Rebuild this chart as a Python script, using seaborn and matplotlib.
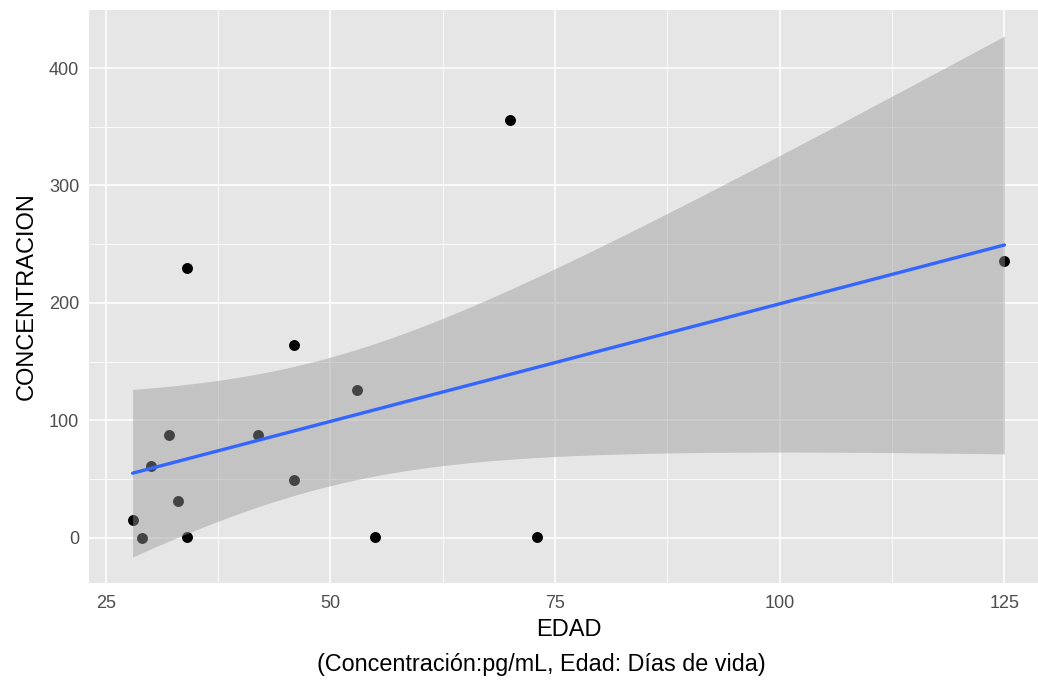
import numpy as np
import pandas as pd
import matplotlib
matplotlib.use("Agg")
import matplotlib.pyplot as plt
import seaborn as sns

# values
edad = [28, 29, 30, 32, 33, 34, 34, 42, 46, 46, 53, 55, 70, 73, 125]
concentracion = [15, 0, 61, 88, 31, 230, 1, 88, 164, 49, 126, 1, 356, 1, 236]
x_ticks = [25, 50, 75, 100, 125]
y_ticks = [0, 100, 200, 300, 400]

df = pd.DataFrame({"EDAD": edad, "CONCENTRACION": concentracion})

sns.set_style("darkgrid", {"axes.facecolor": "#E6E6E6", "grid.color": "white"})
plt.rcParams['font.family'] = ['Liberation Sans', 'DejaVu Sans']

fig = plt.figure(figsize=(10.38, 6.81), dpi=100)
# panel runs past the right edge of the picture, as in the reference
ax = fig.add_axes([89 / 1038, 98 / 681, 959 / 1038, 573 / 681])

# linear fit with 95% confidence band (like geom_smooth(method="lm"))
x = df["EDAD"].to_numpy(float)
y = df["CONCENTRACION"].to_numpy(float)
n = len(x)
b1, b0 = np.polyfit(x, y, 1)
resid = y - (b0 + b1 * x)
s = np.sqrt(np.sum(resid ** 2) / (n - 2))
xs = np.linspace(x.min(), x.max(), 200)
se = s * np.sqrt(1 / n + (xs - x.mean()) ** 2 / np.sum((x - x.mean()) ** 2))
t = 2.160  # t(0.975, df=13)
fit = b0 + b1 * xs

sns.scatterplot(data=df, x="EDAD", y="CONCENTRACION", ax=ax, color="black",
                s=62, linewidth=0, zorder=3)
ax.fill_between(xs, fit - t * se, fit + t * se, color="#999999", alpha=0.45,
                linewidth=0, zorder=4)
ax.plot(xs, fit, color="#3366FF", linewidth=2.4, zorder=5)

# ggplot-like axes
xr = x.max() - x.min()
ax.set_xlim(x.min() - 0.05 * xr, x.max() + 0.05 * xr)
ylo = min((fit - t * se).min(), y.min())
yhi = max((fit + t * se).max(), y.max())
yr = yhi - ylo
ax.set_ylim(ylo - 0.05 * yr, yhi + 0.05 * yr)

ax.set_xticks(x_ticks)
ax.set_yticks(y_ticks)
ax.set_xticks([37.5, 62.5, 87.5, 112.5], minor=True)
ax.set_yticks([50, 150, 250, 350], minor=True)
ax.grid(which="major", color="white", linewidth=1.1)
ax.grid(which="minor", color="white", linewidth=0.55)
ax.set_axisbelow(True)
for sp in ax.spines.values():
    sp.set_visible(False)
ax.tick_params(which="major", length=4, width=1.1, color="#333333",
               labelcolor="#4D4D4D", labelsize=13, pad=3)
ax.tick_params(axis="x", which="major", pad=5)
ax.tick_params(which="minor", length=0)

ax.set_xlabel("EDAD", fontsize=17, color="black", labelpad=5)
ax.set_ylabel("CONCENTRACION", fontsize=17, color="black", labelpad=8)

fig.text(541 / 1038, 1 - 665 / 681, "(Concentración:pg/mL, Edad: Días de vida)",
         ha="center", va="center", fontsize=16.8, color="black")

fig.savefig("out.png", dpi=100, facecolor="white")
